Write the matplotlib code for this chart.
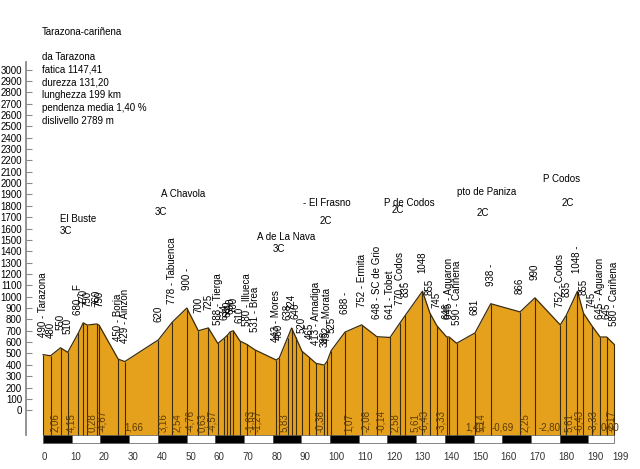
import matplotlib.pyplot as plt
from matplotlib.patches import Rectangle

plt.rcParams['font.family'] = ['Liberation Sans', 'DejaVu Sans']

# profile points: distance (km), altitude (m), place name (None = only the number)
km = [0.0, 2.6, 6.1, 8.6, 12.3, 14.0, 15.4, 18.7, 19.5, 26.2, 28.5,
      40.2, 45.1, 50.1, 54.1, 57.6, 60.9, 63.1, 64.2, 65.2, 66.3, 68.6,
      71.0, 73.9, 81.2, 82.3, 85.2, 86.6, 88.0, 90.2, 92.8, 95.1, 98.0,
      99.0, 100.4, 105.2, 111.0, 116.3, 120.9, 124.4, 126.2, 132.2, 134.8,
      137.2, 140.6, 141.5, 144.1, 150.5, 156.0, 166.2, 171.4, 180.2, 182.3,
      186.2, 188.3, 191.2, 194.1, 196.4, 199.0]
elev = [490, 480, 550, 510, 680, 770, 750, 760, 750, 450, 429,
        620, 778, 900, 700, 725, 588, 634, 660, 690, 700, 610,
        580, 531, 443, 460, 638, 724, 646, 520, 465, 413, 398,
        432, 525, 688, 752, 648, 641, 770, 835, 1048, 855,
        745, 646, 645, 590, 681, 938, 866, 990, 752, 835,
        1048, 855, 745, 645, 645, 580]
names = [u'Tarazona', None, None, None, 'F', None, None, None, None, 'Borja', 'Ainzon',
         None, 'Tabuenca', '', None, None, 'Tierga', None, None, None, None, None,
         'Illueca', 'Brea', 'Mores', None, None, None, None, None, None, 'Arnadiga', None,
         'Morata', None, '', 'Ermita', 'SC de Grio', 'Tobet', 'Codos', None, None, None,
         None, None, 'Aguaron', u'Cariñena', None, '', None, None, 'Codos', None,
         '', None, None, 'Aguaron', None, u'Cariñena']

# slope labels along the bottom
grad_km = [4.2, 10.0, 17.0, 20.4, 28.3, 41.9, 46.6, 51.2, 55.3, 59.0, 72.0,
           74.4, 84.0, 96.5, 106.5, 112.4, 117.8, 122.6, 129.6, 132.9, 138.7,
           147.0, 152.5, 156.3, 168.0, 172.6, 183.4, 186.9, 191.7, 194.3, 198.0]
grad_txt = ['2,06', '4,15', '0,28', '-4,67', '1,66', '3,16', '2,54', '-4,76', '0,63', '-4,57', '-1,63',
            '-1,27', '5,83', '-0,38', '1,07', '-2,08', '-0,14', '2,58', '5,61', '-6,43', '-3,33',
            '1,40', '5,14', '-0,69', '2,25', '-2,80', '5,61', '-6,43', '-3,33', '0,00', '-2,17']
grad_flat = [False, False, False, False, True, False, False, False, False, False, False,
             False, False, False, False, False, False, False, False, False, False,
             True, False, True, False, True, False, False, False, True, False]

# climbs
climb_name = ['El Buste', 'A Chavola', 'A de La Nava', '- El Frasno', 'P de Codos', 'pto de Paniza', 'P Codos']
climb_cat = ['3C', '3C', '3C', '2C', '2C', '2C', '2C']
climb_name_km = [5.9, 41.1, 74.6, 90.6, 118.8, 144.2, 174.2]
climb_name_m = [1684, 1904, 1525, 1825, 1825, 1922, 2037]
climb_cat_km = [5.9, 39.0, 80.1, 96.5, 121.6, 150.9, 180.5]
climb_cat_m = [1579, 1746, 1421, 1667, 1763, 1737, 1825]

info = ['da Tarazona', 'fatica 1147,41', 'durezza 131,20', 'lunghezza 199 km',
        'pendenza media 1,40 %', 'dislivello 2789 m']

yticks = list(range(0, 3001, 100))
xlabels = list(range(0, 191, 10)) + [199]

base = -218
fill_c = '#E5A11B'
line_c = '#3b2b0b'
grad_c = '#5a3a05'

fig = plt.figure(figsize=(6.4, 4.69), dpi=100)
ax = fig.add_axes([0, 0, 1, 1])
ax.set_xlim(-15.0, 208.0)
ax.set_ylim(-517, 3612)

ax.fill_between(km, elev, base, color=fill_c, lw=0)
ax.vlines(km, base, elev, color=line_c, lw=0.8)
ax.plot(km, elev, color=line_c, lw=0.9)

for k, e, n in zip(km, elev, names):
    lab = str(e) if n is None else (str(e) + ' - ' + n).strip()
    ax.annotate(lab, (k, e), xytext=(0, 13), textcoords='offset points',
                rotation=90, ha='center', va='bottom', fontsize=7)

for k, t, flat in zip(grad_km, grad_txt, grad_flat):
    if flat:
        ax.text(k, -150, t, ha='left', va='center', fontsize=7, color=grad_c, zorder=2)
    else:
        ax.text(k, -190, t, rotation=90, ha='center', va='bottom', fontsize=7, color=grad_c, zorder=3)

# km bar
for i, s in enumerate(range(0, 199, 10)):
    e = min(s + 10, 199)
    ax.add_patch(Rectangle((s, -289), e - s, 71, facecolor='black' if i % 2 == 0 else 'white',
                           edgecolor='#555555', lw=0.5))

for k in xlabels:
    ax.text(k - 0.5, -411, str(k), ha='left', va='center', fontsize=7, color='#333333')

for n, c, nk, nm, ck, cm in zip(climb_name, climb_cat, climb_name_km, climb_name_m, climb_cat_km, climb_cat_m):
    ax.text(nk, nm, n, ha='left', va='center', fontsize=7)
    ax.text(ck, cm, c, ha='left', va='center', fontsize=7)

fig.text(42 / 640, 1 - 32 / 469, u'Tarazona-cariñena', fontsize=7, va='center')
for i, t in enumerate(info):
    fig.text(42 / 640, 1 - (57 + 12.8 * i) / 469, t, fontsize=7, va='center')

for s in ['top', 'right', 'bottom']:
    ax.spines[s].set_visible(False)
ax.spines['left'].set_position(('data', -5.9))
ax.spines['left'].set_bounds(base, 3066)
ax.spines['left'].set_color('#8a8a8a')
ax.spines['left'].set_linewidth(1.3)
ax.set_yticks(yticks)
ax.set_yticklabels([str(v) for v in yticks])
ax.tick_params(axis='y', direction='in', length=4, color='#8a8a8a', labelsize=7, pad=3)
ax.set_xticks([])

fig.savefig('out.png', dpi=100)
